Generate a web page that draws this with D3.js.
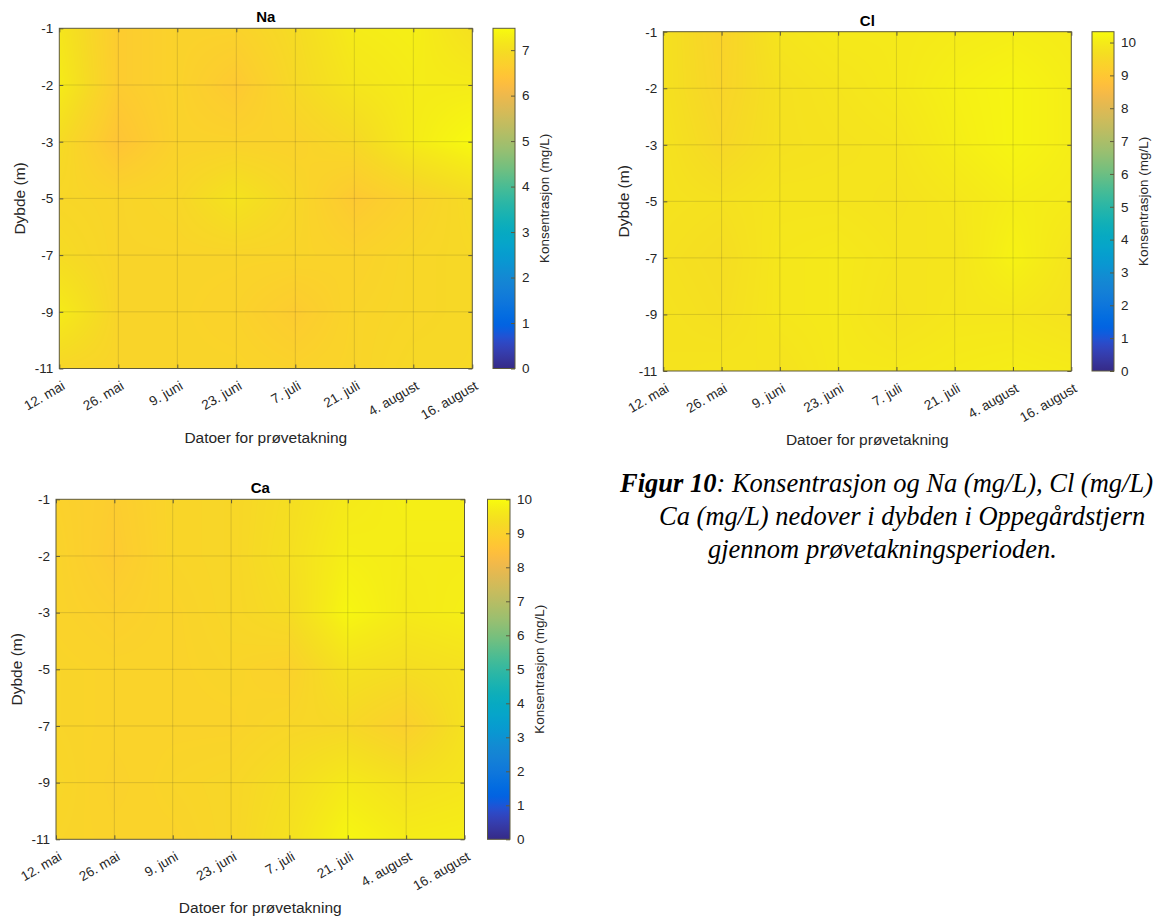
<!DOCTYPE html>
<html>
<head>
<meta charset="utf-8">
<script src="https://cdn.jsdelivr.net/npm/d3@7"></script>
<style>
  body { margin: 0; background: #fff; }
  svg { display: block; }
</style>
</head>
<body>
<svg id="chart" width="1162" height="919"></svg>
<script>
// ---------------- DATA ----------------
const dates = ["12. mai", "26. mai", "9. juni", "23. juni", "7. juli", "21. juli", "4. august", "16. august"];
const depths = [-1, -2, -3, -5, -7, -9, -11];

// rows = depths (-1 ... -11), columns = dates
const naValues = [
  [7.15, 6.60, 6.75, 6.75, 6.95, 7.25, 7.30, 7.05],
  [7.25, 6.60, 6.75, 6.55, 6.90, 7.15, 7.25, 7.25],
  [6.95, 6.45, 6.75, 6.75, 6.75, 6.90, 7.25, 7.45],
  [6.85, 6.80, 6.85, 7.10, 6.85, 6.55, 6.75, 6.95],
  [6.95, 6.80, 6.80, 6.80, 6.80, 6.75, 6.85, 6.90],
  [7.25, 6.80, 6.80, 6.75, 6.60, 6.80, 6.85, 6.90],
  [6.85, 6.80, 6.80, 6.80, 6.75, 6.80, 6.90, 6.90]
];
const clValues = [
  [9.75, 9.35, 9.85, 9.95, 9.95, 10.00, 10.05, 10.00],
  [9.75, 9.40, 9.75, 9.85, 9.95, 10.10, 10.20, 10.05],
  [9.80, 9.50, 9.75, 9.80, 9.85, 10.05, 10.20, 10.05],
  [9.80, 9.75, 9.85, 9.85, 9.80, 9.90, 10.05, 10.00],
  [9.75, 9.65, 9.90, 9.95, 9.85, 9.85, 10.15, 9.85],
  [9.80, 9.70, 9.90, 9.95, 9.80, 9.90, 9.90, 9.80],
  [9.80, 9.85, 9.80, 9.95, 9.95, 10.00, 10.05, 10.00]
];
const caValues = [
  [9.00, 8.85, 9.10, 9.15, 9.35, 9.65, 9.75, 9.75],
  [9.05, 8.80, 9.10, 9.15, 9.40, 9.75, 9.70, 9.70],
  [9.05, 8.95, 9.05, 9.15, 9.30, 9.90, 9.65, 9.75],
  [9.10, 9.05, 9.05, 9.10, 9.00, 9.45, 9.35, 9.45],
  [9.10, 9.05, 9.05, 9.05, 9.15, 9.20, 8.95, 9.45],
  [9.15, 9.00, 9.10, 9.15, 9.35, 9.65, 9.45, 9.55],
  [9.10, 9.05, 9.05, 9.15, 9.45, 9.90, 9.70, 9.75]
];

// colour axis limits and colorbar ticks
const naColorMax = 7.48, clColorMax = 10.33, caColorMax = 10.0;
const naCbarTicks = [0, 1, 2, 3, 4, 5, 6, 7];
const clCbarTicks = [0, 1, 2, 3, 4, 5, 6, 7, 8, 9, 10];
const caCbarTicks = [0, 1, 2, 3, 4, 5, 6, 7, 8, 9, 10];

const titles = ["Na", "Cl", "Ca"];
const xLabel = "Datoer for prøvetakning";
const yLabel = "Dybde (m)";
const cbarLabel = "Konsentrasjon (mg/L)";

// MATLAB parula colormap (64 entries)
const parula = [
[0.2081,0.1663,0.5292],[0.2116,0.1898,0.5777],[0.2123,0.2138,0.6270],[0.2081,0.2386,0.6771],
[0.1959,0.2645,0.7279],[0.1707,0.2919,0.7792],[0.1253,0.3242,0.8303],[0.0591,0.3598,0.8683],
[0.0117,0.3875,0.8820],[0.0060,0.4086,0.8828],[0.0165,0.4266,0.8786],[0.0329,0.4430,0.8720],
[0.0498,0.4586,0.8641],[0.0629,0.4737,0.8554],[0.0723,0.4887,0.8467],[0.0779,0.5040,0.8384],
[0.0793,0.5200,0.8312],[0.0749,0.5375,0.8263],[0.0641,0.5570,0.8240],[0.0488,0.5772,0.8228],
[0.0343,0.5966,0.8199],[0.0265,0.6137,0.8135],[0.0239,0.6287,0.8038],[0.0231,0.6418,0.7913],
[0.0228,0.6535,0.7768],[0.0267,0.6642,0.7607],[0.0384,0.6743,0.7436],[0.0590,0.6838,0.7254],
[0.0843,0.6928,0.7062],[0.1133,0.7015,0.6859],[0.1453,0.7098,0.6646],[0.1801,0.7177,0.6424],
[0.2178,0.7250,0.6193],[0.2586,0.7317,0.5954],[0.3022,0.7376,0.5712],[0.3482,0.7424,0.5473],
[0.3953,0.7459,0.5244],[0.4420,0.7481,0.5033],[0.4871,0.7491,0.4840],[0.5300,0.7491,0.4661],
[0.5709,0.7485,0.4494],[0.6099,0.7473,0.4337],[0.6473,0.7456,0.4188],[0.6834,0.7435,0.4044],
[0.7184,0.7411,0.3905],[0.7525,0.7384,0.3768],[0.7858,0.7356,0.3633],[0.8185,0.7327,0.3498],
[0.8507,0.7299,0.3360],[0.8824,0.7274,0.3217],[0.9139,0.7258,0.3063],[0.9450,0.7261,0.2886],
[0.9739,0.7314,0.2666],[0.9938,0.7455,0.2403],[0.9990,0.7653,0.2164],[0.9955,0.7861,0.1967],
[0.9880,0.8066,0.1794],[0.9789,0.8271,0.1633],[0.9697,0.8481,0.1475],[0.9626,0.8705,0.1309],
[0.9589,0.8949,0.1132],[0.9598,0.9218,0.0948],[0.9661,0.9514,0.0755],[0.9763,0.9831,0.0538]
];
const parulaColors = parula.map(c => d3.rgb(c[0]*255, c[1]*255, c[2]*255).formatHex());

// ---------------- LAYOUT ----------------
const panels = [
  { title: titles[0], values: naValues, cmax: naColorMax, cticks: naCbarTicks,
    x0: 59.3, x1: 472.3, y0: 28.3, y1: 368.5, cbx: 493, cbw: 22 },
  { title: titles[1], values: clValues, cmax: clColorMax, cticks: clCbarTicks,
    x0: 663.3, x1: 1071.3, y0: 31.7, y1: 371, cbx: 1092, cbw: 22 },
  { title: titles[2], values: caValues, cmax: caColorMax, cticks: caCbarTicks,
    x0: 56, x1: 464.5, y0: 499.3, y1: 839.3, cbx: 487.5, cbw: 22.5 }
];

const svg = d3.select("#chart");
const FONT = "'Liberation Sans', Arial, Helvetica, sans-serif";
const TXT = "#262626";
const BOX = "#5e5a3c";
const TICKFS = "13.5px";

function drawPanel(p, idx) {
  const g = svg.append("g");
  const xPoint = d3.scalePoint().domain(dates).range([p.x0, p.x1]);
  const yPoint = d3.scalePoint().domain(depths).range([p.y0, p.y1]);
  const xi = d3.scaleLinear().domain([0, dates.length - 1]).range([p.x0, p.x1]);
  const yi = d3.scaleLinear().domain([0, depths.length - 1]).range([p.y0, p.y1]);

  const stops = parulaColors.map((c, i) => i / (parulaColors.length - 1) * p.cmax);
  const color = d3.scaleLinear().domain(stops).range(parulaColors)
    .interpolate(d3.interpolateRgb).clamp(true);

  // LUT
  const N = 1024, lut = [];
  for (let i = 0; i < N; i++) lut.push(d3.rgb(color(i / (N - 1) * p.cmax)));

  // interpolated surface (shading interp)
  const W = Math.round(p.x1 - p.x0), H = Math.round(p.y1 - p.y0);
  const cv = document.createElement("canvas");
  cv.width = W; cv.height = H;
  const ctx = cv.getContext("2d");
  const img = ctx.createImageData(W, H);
  const V = p.values;
  for (let py = 0; py < H; py++) {
    let fy = yi.invert(p.y0 + py + 0.5);
    fy = Math.max(0, Math.min(depths.length - 1, fy));
    const j = Math.min(depths.length - 2, Math.floor(fy)), ty = fy - j;
    for (let px = 0; px < W; px++) {
      let fx = xi.invert(p.x0 + px + 0.5);
      fx = Math.max(0, Math.min(dates.length - 1, fx));
      const i = Math.min(dates.length - 2, Math.floor(fx)), tx = fx - i;
      const a = V[j][i], b = V[j][i + 1], c = V[j + 1][i], d = V[j + 1][i + 1];
      const v = (a * (1 - tx) + b * tx) * (1 - ty) + (c * (1 - tx) + d * tx) * ty;
      let k = Math.round(v / p.cmax * (N - 1));
      k = Math.max(0, Math.min(N - 1, k));
      const col = lut[k], o = (py * W + px) * 4;
      img.data[o] = col.r; img.data[o + 1] = col.g; img.data[o + 2] = col.b; img.data[o + 3] = 255;
    }
  }
  ctx.putImageData(img, 0, 0);
  g.append("image")
    .attr("x", p.x0).attr("y", p.y0).attr("width", p.x1 - p.x0).attr("height", p.y1 - p.y0)
    .attr("preserveAspectRatio", "none")
    .attr("href", cv.toDataURL());

  // grid
  g.append("g").selectAll("line").data(dates.slice(1, -1)).join("line")
    .attr("x1", d => xPoint(d)).attr("x2", d => xPoint(d))
    .attr("y1", p.y0).attr("y2", p.y1)
    .attr("stroke", "#262626").attr("stroke-opacity", 0.15).attr("stroke-width", 1);
  g.append("g").selectAll("line").data(depths.slice(1, -1)).join("line")
    .attr("y1", d => yPoint(d)).attr("y2", d => yPoint(d))
    .attr("x1", p.x0).attr("x2", p.x1)
    .attr("stroke", "#262626").attr("stroke-opacity", 0.15).attr("stroke-width", 1);

  // axes
  const xAxis = g.append("g").attr("transform", `translate(0,${p.y1})`)
    .call(d3.axisBottom(xPoint).tickSizeInner(-4).tickSizeOuter(0));
  xAxis.select(".domain").remove();
  xAxis.selectAll(".tick line").attr("stroke", BOX);
  xAxis.selectAll(".tick text")
    .attr("x", 0).attr("y", 0).attr("dy", 0)
    .attr("text-anchor", "end")
    .attr("transform", "translate(6,20) rotate(-30)")
    .attr("fill", TXT).style("font-family", FONT).style("font-size", TICKFS);

  const xTop = g.append("g").attr("transform", `translate(0,${p.y0})`)
    .call(d3.axisTop(xPoint).tickSizeInner(-4).tickSizeOuter(0).tickFormat(""));
  xTop.select(".domain").remove();
  xTop.selectAll(".tick line").attr("stroke", BOX);

  const yAxis = g.append("g").attr("transform", `translate(${p.x0},0)`)
    .call(d3.axisLeft(yPoint).tickSizeInner(-4).tickSizeOuter(0).tickPadding(6)
      .tickFormat(d => String(d)));
  yAxis.select(".domain").remove();
  yAxis.selectAll(".tick line").attr("stroke", BOX);
  yAxis.selectAll(".tick text").attr("fill", TXT)
    .style("font-family", FONT).style("font-size", TICKFS);

  const yRight = g.append("g").attr("transform", `translate(${p.x1},0)`)
    .call(d3.axisRight(yPoint).tickSizeInner(-4).tickSizeOuter(0).tickFormat(""));
  yRight.select(".domain").remove();
  yRight.selectAll(".tick line").attr("stroke", BOX);

  // box
  g.append("rect").attr("x", p.x0).attr("y", p.y0)
    .attr("width", p.x1 - p.x0).attr("height", p.y1 - p.y0)
    .attr("fill", "none").attr("stroke", BOX).attr("stroke-width", 1);

  // title
  g.append("text").attr("x", (p.x0 + p.x1) / 2).attr("y", p.y0 - 6)
    .attr("text-anchor", "middle").attr("fill", "#000")
    .style("font-family", FONT).style("font-size", "15px").style("font-weight", "bold")
    .text(p.title);

  // x label
  g.append("text").attr("x", (p.x0 + p.x1) / 2).attr("y", p.y1 + 74)
    .attr("text-anchor", "middle").attr("fill", TXT)
    .style("font-family", FONT).style("font-size", "15.5px")
    .text(xLabel);

  // y label
  g.append("text")
    .attr("transform", `translate(${p.x0 - 34},${(p.y0 + p.y1) / 2}) rotate(-90)`)
    .attr("text-anchor", "middle").attr("fill", TXT)
    .style("font-family", FONT).style("font-size", "15.5px")
    .text(yLabel);

  // colorbar
  const gradId = "grad" + idx;
  const grad = svg.append("defs").append("linearGradient").attr("id", gradId)
    .attr("x1", 0).attr("y1", 1).attr("x2", 0).attr("y2", 0);
  grad.selectAll("stop").data(parulaColors).join("stop")
    .attr("offset", (d, i) => i / (parulaColors.length - 1))
    .attr("stop-color", d => d);
  const cScale = d3.scaleLinear().domain([0, p.cmax]).range([p.y1, p.y0]);
  g.append("rect").attr("x", p.cbx).attr("y", p.y0).attr("width", p.cbw)
    .attr("height", p.y1 - p.y0).attr("fill", `url(#${gradId})`);
  const cAxis = g.append("g").attr("transform", `translate(${p.cbx + p.cbw},0)`)
    .call(d3.axisRight(cScale).tickValues(p.cticks).tickSizeInner(-4).tickSizeOuter(0)
      .tickPadding(7).tickFormat(d => String(d)));
  cAxis.select(".domain").remove();
  cAxis.selectAll(".tick line").attr("stroke", BOX);
  cAxis.selectAll(".tick text").attr("fill", TXT)
    .style("font-family", FONT).style("font-size", TICKFS);
  g.append("rect").attr("x", p.cbx).attr("y", p.y0).attr("width", p.cbw)
    .attr("height", p.y1 - p.y0).attr("fill", "none").attr("stroke", BOX).attr("stroke-width", 1);
  g.append("text")
    .attr("transform", `translate(${p.cbx + p.cbw + 34},${(p.y0 + p.y1) / 2}) rotate(-90)`)
    .attr("text-anchor", "middle").attr("fill", TXT)
    .style("font-family", FONT).style("font-size", "13.5px")
    .text(cbarLabel);
}

panels.forEach(drawPanel);

// ---------------- CAPTION ----------------
const SERIF = "'Liberation Serif', 'Times New Roman', serif";
const cap = svg.append("g").style("font-family", SERIF).style("font-size", "26.5px")
  .style("font-style", "italic").attr("fill", "#000");
const l1 = cap.append("text").attr("x", 620).attr("y", 492);
l1.append("tspan").style("font-weight", "bold").text("Figur 10");
l1.append("tspan").text(": Konsentrasjon og Na (mg/L), Cl (mg/L)");
cap.append("text").attr("x", 659).attr("y", 525).text("Ca (mg/L) nedover i dybden i Oppegårdstjern");
cap.append("text").attr("x", 708).attr("y", 558).text("gjennom prøvetakningsperioden.");
</script>
</body>
</html>
